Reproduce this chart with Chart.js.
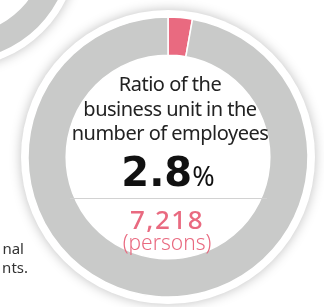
<!DOCTYPE html>
<html>
<head>
<meta charset="utf-8">
<script src="https://cdn.jsdelivr.net/npm/chart.js@4"></script>
<style>
  html, body { margin: 0; padding: 0; background: #fff; }
  body { width: 324px; height: 307px; position: relative; overflow: hidden; font-family: "Noto Sans", sans-serif; }
  .disc { position: absolute; border-radius: 50%; background: #fff; box-shadow: 0 0 12px rgba(0,0,0,0.25); }
  .box { position: absolute; }
  .t { position: absolute; white-space: nowrap; line-height: 1; }
  .c { left: 0; width: 340px; text-align: center; }
  .txt { font-size: 20px; color: #222; letter-spacing: -0.5px; }
  .side { font-size: 15px; color: #333; text-align: right; left: -100px; }
</style>
</head>
<body>
<div class="disc" id="disc2"></div>
<div class="box" id="box2"><canvas id="graph_other"></canvas></div>
<div class="disc" id="disc1"></div>
<div class="box" id="box1"><canvas id="graph_ratio"></canvas></div>

<div class="t c txt" style="top:74px;">Ratio of the</div>
<div class="t c txt" style="top:99px;">business unit in the</div>
<div class="t c txt" style="top:123px;">number of employees</div>
<div class="t c" style="top:152px;left:-2px;color:#111;"><span style="font-size:40px;font-weight:700;font-family:'DejaVu Sans';">2.8</span><span style="font-size:27px;">%</span></div>
<div class="box" style="left:70px;top:198px;width:197px;height:1px;background:#d2d2d2;"></div>
<div class="t c" style="top:206px;left:-3px;font-size:26px;font-weight:500;color:#e96a80;letter-spacing:1.5px;">7,218</div>
<div class="t c" style="top:232px;left:-3px;font-size:21px;font-weight:300;color:#e96a80;">(persons)</div>
<div class="t side" style="width:124px;top:241px;">nal</div>
<div class="t side" style="width:128px;top:260px;">nts.</div>

<script>
// business unit share of employees (%)
var etiquetas = ["Business unit", "Other units"];
var porcentajes = [2.8, 97.2];
var colores = ['#e96a80', '#c9cac9'];

// neighbouring chart, only its gray ring shows
var etiquetas_otro = ["Other"];
var valores_otro = [100];

const R1 = 140, IN1 = 110, CX1 = 168, CY1 = 157;
const R2 = 113, IN2 = 97.5, CX2 = -42, CY2 = -53;

function colocar(id_box, id_disc, cx, cy, r){
    var s = (r + 12) * 2;
    var b = document.getElementById(id_box);
    b.style.left = (cx - s/2) + 'px'; b.style.top = (cy - s/2) + 'px';
    b.style.width = s + 'px'; b.style.height = s + 'px';
    var d = document.getElementById(id_disc);
    var rd = r + 7;
    d.style.left = (cx - rd) + 'px'; d.style.top = (cy - rd) + 'px';
    d.style.width = 2*rd + 'px'; d.style.height = 2*rd + 'px';
};

colocar('box1', 'disc1', CX1, CY1, R1);
colocar('box2', 'disc2', CX2, CY2, R2);

var opciones = {
    responsive: true, maintainAspectRatio: false, animation: false,
    layout: {padding: 0},
    plugins: {legend: {display: false}, tooltip: {enabled: false}}
};

var grafico_ratio = new Chart(document.getElementById("graph_ratio").getContext("2d"), {
    type: 'doughnut',
    data: {labels: etiquetas, datasets: [{data: porcentajes, backgroundColor: colores, borderColor: '#fff', borderWidth: 1.5, hoverOffset: 0}]},
    options: Object.assign({radius: R1, cutout: IN1, rotation: 0}, opciones)
});

var grafico_otro = new Chart(document.getElementById("graph_other").getContext("2d"), {
    type: 'doughnut',
    data: {labels: etiquetas_otro, datasets: [{data: valores_otro, backgroundColor: ['#c9cac9'], borderWidth: 0, hoverOffset: 0}]},
    options: Object.assign({radius: R2, cutout: IN2}, opciones)
});
</script>
</body>
</html>
